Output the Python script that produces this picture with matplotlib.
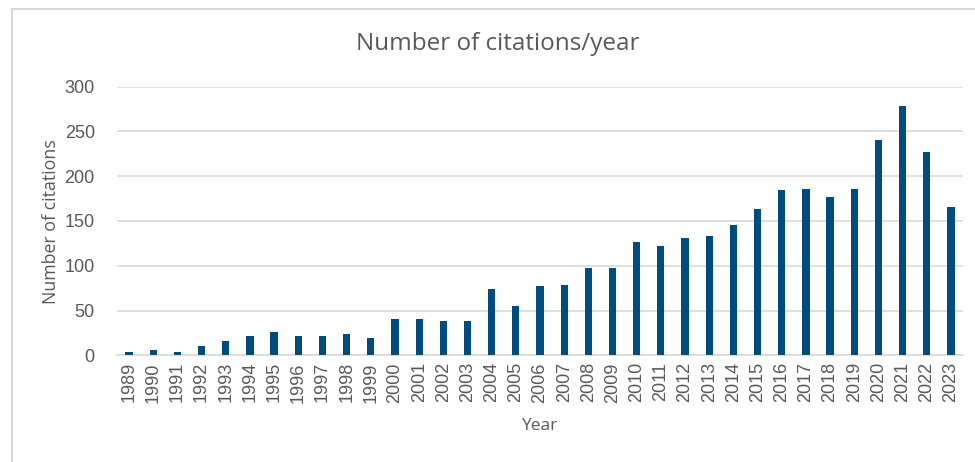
import matplotlib
matplotlib.use("Agg")
import matplotlib.pyplot as plt
from matplotlib.patches import Rectangle

years = [str(y) for y in range(1989, 2024)]
citations = [4, 6, 4, 10, 16, 21, 26, 22, 21, 24, 19, 40, 41, 38, 38, 74,
             55, 77, 78, 98, 97, 127, 122, 131, 133, 145, 163, 185, 186, 177,
             186, 241, 278, 227, 166]

grey = '#595959'
bar_color = '#004c7f'

fig = plt.figure(figsize=(9.75, 4.62), dpi=100)
ax = fig.add_axes([0.12, 0.231, 0.8677, 0.5813])

# chart border
fig.patches.append(Rectangle((12 / 975, -0.1), 1.2, 1.1 - 9 / 462,
                             transform=fig.transFigure, fill=False,
                             edgecolor='#d9d9d9', linewidth=1.5))

x = range(len(years))
ax.bar(x, citations, width=0.3, color=bar_color, zorder=3)

ax.set_xlim(-0.5, len(years) - 0.5)
ax.set_ylim(0, 300)
ax.set_yticks([0, 50, 100, 150, 200, 250, 300])
ax.set_xticks(list(x))
ax.set_xticklabels(years, rotation=90)

ax.grid(axis='y', color='#d9d9d9', linewidth=1.2, zorder=0)
for s in ['top', 'right', 'left']:
    ax.spines[s].set_visible(False)
ax.spines['bottom'].set_color('#d9d9d9')
ax.spines['bottom'].set_linewidth(1.2)
ax.tick_params(axis='both', length=0, colors=grey, labelsize=13, pad=5)
for lbl in ax.get_xticklabels() + ax.get_yticklabels():
    lbl.set_family('Liberation Sans')
ax.tick_params(axis='y', pad=16)

fig.text(0.51, 0.905, 'Number of citations/year', ha='center', va='center',
         fontsize=17.5, color=grey, family='Open Sans')
fig.text(0.052, 0.52, 'Number of citations', ha='center', va='center',
         rotation=90, fontsize=12.8, color=grey, family='Open Sans')
fig.text(0.553, 0.078, 'Year', ha='center', va='center',
         fontsize=12.5, color=grey, family='Open Sans')

fig.savefig('out.png', dpi=100)
